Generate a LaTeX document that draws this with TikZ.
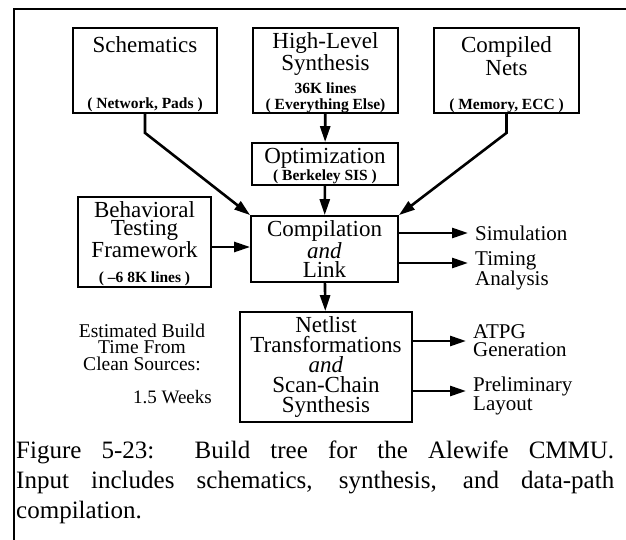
\documentclass[tikz,border=0pt]{standalone}
\usepackage{fontspec}
\setmainfont{Liberation Serif}
\usetikzlibrary{arrows.meta,positioning}
\tikzset{
  >={Triangle[length=16pt,width=10pt]},
  blk/.style={
    draw, rectangle, line width=1.8pt, inner sep=0pt, align=center
  },
  ttl/.style={
    align=center, inner sep=0pt, font=\fontsize{23}{21}\selectfont
  },
  sub/.style={
    align=center, inner sep=0pt, font=\fontsize{15.5}{16}\selectfont\bfseries
  },
  outp/.style={
    anchor=west, align=left, inner xsep=7pt, inner ysep=0pt,
    font=\fontsize{21}{18}\selectfont
  },
  flow/.style={->, line width=2.6pt},
  capline/.style={anchor=west, inner sep=0pt, font=\fontsize{25}{28}\selectfont},
}

\begin{document}
\begin{tikzpicture}[x=1pt, y=-1pt]
  \useasboundingbox (0,0) rectangle (626,540);
  \draw[line width=1.8pt] (14,540) -- (14,9) -- (626,9);

  % sources
  \node[blk, minimum width=144pt, minimum height=85pt] (sch) at (145,70.5) {};
  \node[ttl] (schT) at (145,45) {Schematics};
  \node[sub] (schS) at (145,105) {( Network, Pads )};

  \node[blk, minimum width=145pt, minimum height=85pt] (hls) at (325.5,70.5) {};
  \node[ttl, font=\fontsize{23}{22}\selectfont] (hlsT) at (325.5,54) {High-Level\\Synthesis};
  \node[sub] (hlsS) at (325.5,98) {36K lines\\( Everything Else)};

  \node[blk, minimum width=145pt, minimum height=85pt] (cnets) at (506.5,70.5) {};
  \node[ttl, font=\fontsize{23}{23}\selectfont] (cnetsT) at (506.5,56.5) {Compiled\\Nets};
  \node[sub] (cnetsS) at (506.5,106) {( Memory, ECC )};

  \node[blk, minimum width=146pt, minimum height=42pt] (opt) at (325,164) {};
  \node[ttl] (optT) at (325,158.5) {Optimization};
  \node[sub] (optS) at (325,177) {( Berkeley SIS )};

  \node[blk, minimum width=133pt, minimum height=90pt] (beh) at (144.5,242) {};
  \node[ttl, font=\fontsize{23}{18.5}\selectfont] (behT) at (144.5,229.5) {Behavioral\\Testing\\Framework};
  \node[sub] (behS) at (144.5,279) {( --6 8K lines )};

  % main flow
  \node[blk, ttl, font=\fontsize{23}{19}\selectfont, minimum width=147pt, minimum height=66pt]
    (comp) at (324.5,249) {Compilation\\\textit{and}\\Link};
  \node[blk, ttl, font=\fontsize{23}{20}\selectfont, minimum width=172pt, minimum height=110pt]
    (net) at (326,367) {Netlist\\Transformations\\\textit{and}\\Scan-Chain\\Synthesis};

  % outputs
  \node[outp] (sim) at (468,233) {Simulation};
  \node[outp] (tim) at (468,271) {Timing\\Analysis};
  \node[outp] (atpg) at (466,341) {ATPG\\Generation};
  \node[outp] (prel) at (466,396) {Preliminary\\Layout};

  \node[align=center, inner sep=0pt, font=\fontsize{19.5}{16.5}\selectfont]
    (est) at (142,347) {Estimated Build\\Time From\\Clean Sources:};
  \node[anchor=east, inner sep=0pt, font=\fontsize{19}{19}\selectfont] (wks) at (212,397) {1.5 Weeks};

  \draw[flow] (sch.south) -- ++(0,19) -- (comp.north west);
  \draw[flow] (cnets.south) -- ++(0,19) -- (comp.north east);
  \draw[flow] (hls) -- (opt);
  \draw[flow] (opt) -- (comp);
  \draw[flow] (beh.east |- 0,247) -- (comp.west |- 0,247);
  \draw[flow] (comp) -- (net);
  \draw[flow] (comp.east |- sim.west) -- (sim.west);
  \draw[flow] (comp.east |- 0,263) -- ([yshift=8pt]tim.west);
  \draw[flow] (net.east |- atpg.west) -- (atpg.west);
  \draw[flow] (net.east |- 0,391) -- ([yshift=5pt]prel.west);

  % caption
  \node[capline] (cap1) at (16,452) {\makebox[598pt][s]{Figure 5-23:\ \ Build tree for the Alewife CMMU.}};
  \node[capline] (cap2) at (16,483) {\makebox[598pt][s]{Input includes schematics, synthesis, and data-path}};
  \node[capline] (cap3) at (16,512) {compilation.};
\end{tikzpicture}
\end{document}
